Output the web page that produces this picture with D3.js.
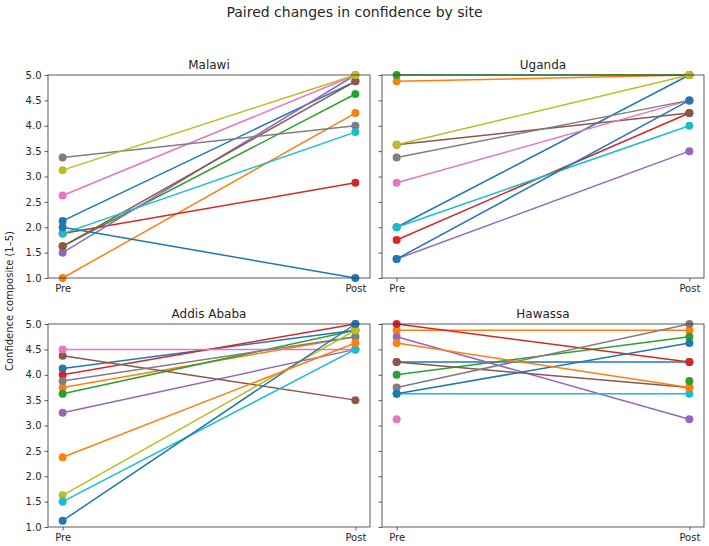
<!DOCTYPE html>
<meta charset="utf-8">
<style>
  body { margin: 0; background: #fff; }
  text { font-family: "DejaVu Sans", sans-serif; fill: #262626; }
  .tick text { font-size: 10px; }
  .panel-title { font-size: 12px; text-anchor: middle; }
</style>
<body>
<script src="https://d3js.org/d3.v7.min.js"></script>
<script>

var width = 709,
    height = 546;

var sites = ["Malawi", "Uganda", "Addis Ababa", "Hawassa"];
var phases = ["Pre", "Post"];
var yTicks = [1.0, 1.5, 2.0, 2.5, 3.0, 3.5, 4.0, 4.5, 5.0];

// one entry per participant, colour follows index (tab10 cycle)
var malawiPre  = [2.125, 1.0, 1.625, 1.875, 1.5, 1.625, 2.625, 3.375, 3.125, 1.875, 2.0];
var malawiPost = [4.875, 4.25, 4.625, 2.875, 5.0, 4.875, 5.0, 4.0, 5.0, 3.875, 1.0];

var ugandaPre  = [2.0, 4.875, 5.0, 1.75, 1.375, 3.625, 2.875, 3.375, 3.625, 2.0, 1.375];
var ugandaPost = [5.0, 5.0, 5.0, 4.25, 3.5, 4.25, 4.5, 4.5, 5.0, 4.0, 4.5];

var addisPre  = [4.125, 3.75, 3.625, 4.0, 3.25, 4.375, 4.5, 3.875, 1.625, 1.5, 1.125, 2.375];
var addisPost = [4.875, 4.75, 4.875, 5.0, 4.5, 3.5, 4.5, 4.75, 4.875, 4.5, 5.0, 4.625];

var hawassaPre  = [4.25, 4.875, 4.0, 5.0, 4.75, 4.25, 3.125, 3.75, null, 3.625, 3.625, 4.625, null];
var hawassaPost = [4.25, 4.875, 4.75, 4.25, 3.125, 3.75, null, 5.0, null, 3.625, 4.625, 3.75, 3.875];

var preValues = [malawiPre, ugandaPre, addisPre, hawassaPre];
var postValues = [malawiPost, ugandaPost, addisPost, hawassaPost];

var colors = d3.schemeCategory10;

var svg = d3.select("body").append("svg")
    .attr("width", width)
    .attr("height", height);

svg.append("text")
    .attr("x", width / 2)
    .attr("y", 17)
    .attr("text-anchor", "middle")
    .style("font-size", "14px")
    .text("Paired changes in confidence by site");

svg.append("text")
    .attr("transform", "translate(13,301) rotate(-90)")
    .attr("text-anchor", "middle")
    .style("font-size", "10px")
    .text("Confidence composite (1–5)");

var panelW = 322, panelH = 203;
var lefts = [48, 382], tops = [75, 324];

sites.forEach(function(site, i) {
  var x0 = lefts[i % 2], y0 = tops[Math.floor(i / 2)];

  var x = d3.scaleLinear().domain([-0.05, 1.05]).range([0, panelW]);
  var y = d3.scaleLinear().domain([1, 5]).range([panelH, 0]);

  var g = svg.append("g").attr("transform", "translate(" + x0 + "," + y0 + ")");

  g.append("defs").append("clipPath").attr("id", "clip" + i)
    .append("rect").attr("x", -6).attr("y", -6).attr("width", panelW + 12).attr("height", panelH + 12);

  var yAxis = d3.axisLeft(y).tickValues(yTicks).tickSize(3.5).tickPadding(3)
      .tickFormat(i % 2 == 0 ? d3.format(".1f") : function() { return ""; });
  var xAxis = d3.axisBottom(x).tickValues([0, 1]).tickSize(3.5).tickPadding(3)
      .tickFormat(function(d) { return phases[d]; });

  var ya = g.append("g").call(yAxis);
  var xa = g.append("g").attr("transform", "translate(0," + panelH + ")").call(xAxis);
  [ya, xa].forEach(function(a) {
    a.select(".domain").remove();
    a.selectAll(".tick line").attr("stroke", "#333").attr("stroke-width", 0.8);
  });

  var plot = g.append("g").attr("clip-path", "url(#clip" + i + ")");
  var pre = preValues[i], post = postValues[i];

  pre.forEach(function(p, k) {
    var c = colors[k % 10];
    var pts = [[0, p], [1, post[k]]].filter(function(d) { return d[1] != null; });
    if (pts.length == 2) {
      plot.append("path")
        .datum(pts)
        .attr("fill", "none")
        .attr("stroke", c)
        .attr("stroke-width", 1.5)
        .attr("d", d3.line().x(function(d) { return x(d[0]); }).y(function(d) { return y(d[1]); }));
    }
    plot.selectAll(null)
      .data(pts)
      .enter().append("circle")
      .attr("cx", function(d) { return x(d[0]); })
      .attr("cy", function(d) { return y(d[1]); })
      .attr("r", 4)
      .attr("fill", c);
  });

  g.append("rect")
    .attr("width", panelW).attr("height", panelH)
    .attr("fill", "none").attr("stroke", "#333").attr("stroke-width", 0.8);

  g.append("text")
    .attr("class", "panel-title")
    .attr("x", panelW / 2)
    .attr("y", -6)
    .text(site);
});

</script>
